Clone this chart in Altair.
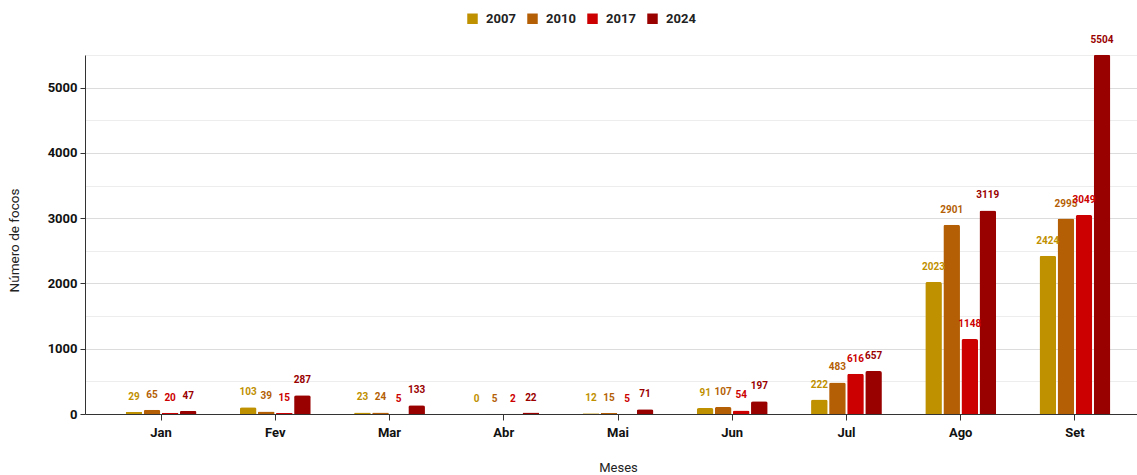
import altair as alt
import pandas as pd

months = ["Jan", "Fev", "Mar", "Abr", "Mai", "Jun", "Jul", "Ago", "Set"]
years = ["2007", "2010", "2017", "2024"]
v2007 = [29, 103, 23, 0, 12, 91, 222, 2023, 2424]
v2010 = [65, 39, 24, 5, 15, 107, 483, 2901, 2995]
v2017 = [20, 15, 5, 2, 5, 54, 616, 1148, 3049]
v2024 = [47, 287, 133, 22, 71, 197, 657, 3119, 5504]
colors = ["#BF9000", "#B45F06", "#CC0000", "#990000"]

rows = []
for yr, vals in zip(years, [v2007, v2010, v2017, v2024]):
    for m, v in zip(months, vals):
        rows.append({"mes": m, "ano": yr, "valor": v})
df = pd.DataFrame(rows)

FONT = "Roboto"

x = alt.X("mes:N", sort=months, title="Meses",
          scale=alt.Scale(range=[0, 1066], paddingInner=0.38, paddingOuter=0.356),
          axis=alt.Axis(labelAngle=0, labelFontWeight="bold", labelFontSize=13,
                        labelColor="#111", labelPadding=6, tickSize=6,
                        tickColor="#333", domainColor="#333", grid=False,
                        titleFontSize=13, titleFontWeight="normal", titleColor="#222",
                        titleX=533, titleY=47, titleBaseline="top"))
xo = alt.XOffset("ano:N", sort=years, scale=alt.Scale(paddingInner=0.08, paddingOuter=0))
y = alt.Y("valor:Q", title="Número de focos",
          scale=alt.Scale(domain=[0, 5500], nice=False),
          axis=alt.Axis(values=list(range(0, 5501, 500)),
                        labelExpr="datum.value % 1000 == 0 ? datum.label : ''",
                        format="d",
                        labelFontWeight="bold", labelFontSize=13, labelColor="#111",
                        labelPadding=3, tickSize=5,
                        tickOpacity={"condition": {"test": "datum.value % 1000 == 0", "value": 1}, "value": 0},
                        tickColor="#333", domainColor="#333",
                        gridColor={"condition": {"test": "datum.value % 1000 == 0", "value": "#dcdcdc"}, "value": "#ededed"},
                        titleFontSize=13.5, titleFontWeight="normal", titleColor="#222",
                        titleX=-64, titleY=185))
color = alt.Color("ano:N", sort=years,
                  scale=alt.Scale(domain=years, range=colors),
                  legend=alt.Legend(title=None, orient="none", direction="horizontal",
                                    legendX=381, legendY=-43, symbolType="square",
                                    symbolSize=110, symbolStrokeWidth=0, labelFontSize=13,
                                    labelFontWeight="bold", labelColor="#222",
                                    columnPadding=10, labelOffset=7, padding=0))

base = alt.Chart(df)
bars = base.mark_bar(cornerRadiusTopLeft=2, cornerRadiusTopRight=2).encode(
    x=x, xOffset=xo, y=y, color=color)
labels = base.mark_text(dy=-12, baseline="alphabetic", fontSize=10, fontWeight="bold", font=FONT).encode(
    x=x, xOffset=xo, y=y, text="valor:Q",
    color=alt.Color("ano:N", sort=years, scale=alt.Scale(domain=years, range=colors), legend=None))

chart = alt.layer(bars, labels).properties(
    width=1052, height=359,
    autosize=alt.AutoSizeParams(type="none"),
    padding={"left": 85, "top": 55, "right": 0, "bottom": 61},
).configure(font=FONT).configure_view(stroke=None)

chart.save("out.html", embed_options={"renderer": "svg", "actions": False})
